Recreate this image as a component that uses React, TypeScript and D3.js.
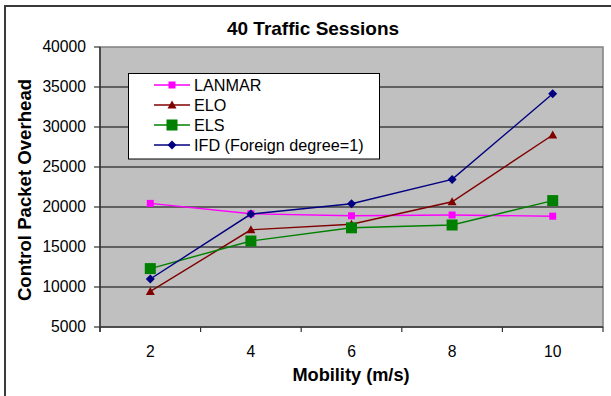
import React from "react";
import * as d3 from "d3";

const mobility = ["2", "4", "6", "8", "10"];
const lanmar = [20450, 19150, 18900, 19000, 18850];
const elo = [9450, 17150, 17850, 20650, 29000];
const els = [12300, 15750, 17400, 17750, 20800];
const ifd = [11000, 19120, 20400, 23450, 34150];
const yTicks = [5000, 10000, 15000, 20000, 25000, 30000, 35000, 40000];

type Shape = "square" | "triangle" | "bigsquare" | "diamond";
const seriesList: { name: string; values: number[]; color: string; shape: Shape }[] = [
  { name: "LANMAR", values: lanmar, color: "#FF00FF", shape: "square" },
  { name: "ELO", values: elo, color: "#800000", shape: "triangle" },
  { name: "ELS", values: els, color: "#008000", shape: "bigsquare" },
  { name: "IFD (Foreign degree=1)", values: ifd, color: "#000080", shape: "diamond" },
];

const W = 611;
const H = 396;
const plot = { left: 100, right: 603, top: 47, bottom: 327 };
const font = "'Liberation Sans', Arial, sans-serif";

function Marker({ shape, x, y, color }: { shape: Shape; x: number; y: number; color: string }) {
  if (shape === "square") {
    return <rect x={x - 3.5} y={y - 3.5} width={7} height={7} fill={color} />;
  }
  if (shape === "bigsquare") {
    return <rect x={x - 5.5} y={y - 5.5} width={11} height={11} fill={color} />;
  }
  if (shape === "triangle") {
    return <path d={`M${x},${y - 4.5}L${x + 4.5},${y + 3.5}L${x - 4.5},${y + 3.5}Z`} fill={color} />;
  }
  return <path d={`M${x},${y - 4.5}L${x + 4.5},${y}L${x},${y + 4.5}L${x - 4.5},${y}Z`} fill={color} />;
}

export default function App() {
  const x = d3.scaleBand<string>().domain(mobility).range([plot.left, plot.right]).padding(0);
  const y = d3.scaleLinear().domain([5000, 40000]).range([plot.bottom, plot.top]);
  const cx = (c: string) => (x(c) as number) + x.bandwidth() / 2;
  const line = d3
    .line<number>()
    .x((_, i) => cx(mobility[i]))
    .y((v) => y(v));

  const boundaries = mobility.map((c) => x(c) as number).concat([plot.right]);

  const legend = { x: 128.5, y: 73.5, w: 251, h: 85.5 };

  return (
    <svg
      width={W}
      height={H}
      style={{ position: "absolute", left: 0, top: 0, background: "#fff" }}
      fontFamily={font}
    >
      {/* chart frame */}
      <path d={`M5,${H}V6H${W}`} fill="none" stroke="#3a3a3a" strokeWidth={2} />

      <text x={313} y={35} textAnchor="middle" fontSize={19} fontWeight="bold">
        40 Traffic Sessions
      </text>

      {/* plot area */}
      <rect
        x={plot.left}
        y={plot.top}
        width={plot.right - plot.left}
        height={plot.bottom - plot.top}
        fill="#C0C0C0"
        stroke="#808080"
        strokeWidth={1.5}
      />
      {yTicks
        .filter((t) => t > 5000 && t < 40000)
        .map((t) => (
          <line key={t} x1={plot.left} x2={plot.right} y1={y(t)} y2={y(t)} stroke="#000" strokeWidth={1} />
        ))}

      {/* axes */}
      <line x1={plot.left} x2={plot.left} y1={plot.top} y2={plot.bottom + 5} stroke="#333" strokeWidth={1.5} />
      <line x1={plot.left} x2={plot.right} y1={plot.bottom} y2={plot.bottom} stroke="#333" strokeWidth={1.5} />
      {yTicks.map((t) => (
        <g key={t}>
          <line x1={plot.left - 6} x2={plot.left} y1={y(t)} y2={y(t)} stroke="#333" strokeWidth={1.2} />
          <text x={86} y={y(t)} dy="0.35em" textAnchor="end" fontSize={15.7}>
            {t}
          </text>
        </g>
      ))}
      {boundaries.map((b, i) => (
        <line key={i} x1={b} x2={b} y1={plot.bottom} y2={plot.bottom + 5} stroke="#333" strokeWidth={1.2} />
      ))}
      {mobility.map((c) => (
        <text key={c} x={cx(c)} y={356.5} textAnchor="middle" fontSize={15.7}>
          {c}
        </text>
      ))}

      <text x={351} y={381} textAnchor="middle" fontSize={18.2} fontWeight="bold">
        Mobility (m/s)
      </text>
      <text
        transform="translate(30.5,190) rotate(-90)"
        textAnchor="middle"
        fontSize={18.6}
        fontWeight="bold"
      >
        Control Packet Overhead
      </text>

      {/* series */}
      {seriesList.map((s) => (
        <g key={s.name}>
          <path d={line(s.values) as string} fill="none" stroke={s.color} strokeWidth={1.4} />
          {s.values.map((v, i) => (
            <Marker key={i} shape={s.shape} x={cx(mobility[i])} y={y(v)} color={s.color} />
          ))}
        </g>
      ))}

      {/* legend */}
      <rect x={legend.x} y={legend.y} width={legend.w} height={legend.h} fill="#fff" stroke="#000" strokeWidth={1} />
      {seriesList.map((s, i) => {
        const ly = 85 + i * 20;
        return (
          <g key={s.name}>
            <line x1={154} x2={190} y1={ly} y2={ly} stroke={s.color} strokeWidth={1.4} />
            <Marker shape={s.shape} x={172} y={ly} color={s.color} />
            <text x={194} y={ly} dy="0.36em" fontSize={16.2}>
              {s.name}
            </text>
          </g>
        );
      })}
    </svg>
  );
}
